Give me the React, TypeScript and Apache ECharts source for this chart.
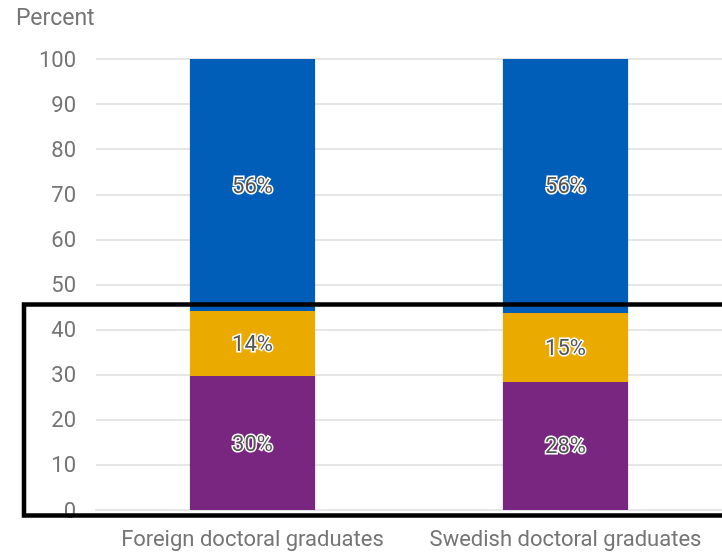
import React, { useEffect, useRef } from "react";
import * as echarts from "echarts";

const categories = ["Foreign doctoral graduates", "Swedish doctoral graduates"];
const bottomSeries = [29.7, 28.4];
const middleSeries = [14.4, 15.3];
const topSeries = [55.9, 56.3];
const seriesNames = ["Group A", "Group B", "Group C"];
const seriesColors = ["#78267F", "#EAAA00", "#005EB8"];
const yAxisName = "Percent";

export default function App() {
  const ref = useRef<HTMLDivElement>(null);
  useEffect(() => {
    if (!ref.current) return;
    const chart = echarts.init(ref.current, undefined, { renderer: "svg" });
    const font = "Roboto, 'Liberation Sans', Arial, sans-serif";
    const label = {
      show: true,
      position: "inside",
      formatter: (p: any) => Math.round(p.value) + "%",
      color: "#555555",
      fontSize: 22,
      fontFamily: font,
      textBorderColor: "#ffffff",
      textBorderWidth: 3,
    };
    const data = [bottomSeries, middleSeries, topSeries];
    chart.setOption({
      animation: false,
      title: {
        text: yAxisName,
        left: 11,
        top: 1,
        textStyle: { color: "#757575", fontSize: 23, fontWeight: "normal", fontFamily: font },
      },
      grid: { left: 96, right: 0, top: 59, bottom: 42, containLabel: false },
      xAxis: {
        type: "category",
        data: categories,
        axisTick: { show: false },
        axisLine: { show: true, lineStyle: { color: "#e6e6e6", width: 2 } },
        axisLabel: {
          color: "#757575",
          fontSize: 22,
          fontFamily: font,
          margin: 17,
          interval: 0,
          hideOverlap: false,
        },
      },
      yAxis: {
        type: "value",
        min: 0,
        max: 100,
        interval: 10,
        axisLine: { show: false },
        axisTick: { show: false },
        axisLabel: { color: "#757575", fontSize: 22, fontFamily: font, margin: 20 },
        splitLine: { lineStyle: { color: "#e6e6e6", width: 2 } },
      },
      series: data.map((d, i) => ({
        name: seriesNames[i],
        type: "bar",
        stack: "total",
        barWidth: "40%",
        data: d,
        itemStyle: { color: seriesColors[i] },
        label,
      })),
      graphic: [
        {
          type: "rect",
          z: 100,
          shape: { x: 24, y: 304.5, width: 720, height: 211 },
          style: { fill: "none", stroke: "#000000", lineWidth: 4.5 },
        },
      ],
    });
    return () => chart.dispose();
  }, []);
  return (
    <div
      ref={ref}
      style={{ position: "fixed", left: 0, top: 0, width: 722, height: 552 }}
    />
  );
}
